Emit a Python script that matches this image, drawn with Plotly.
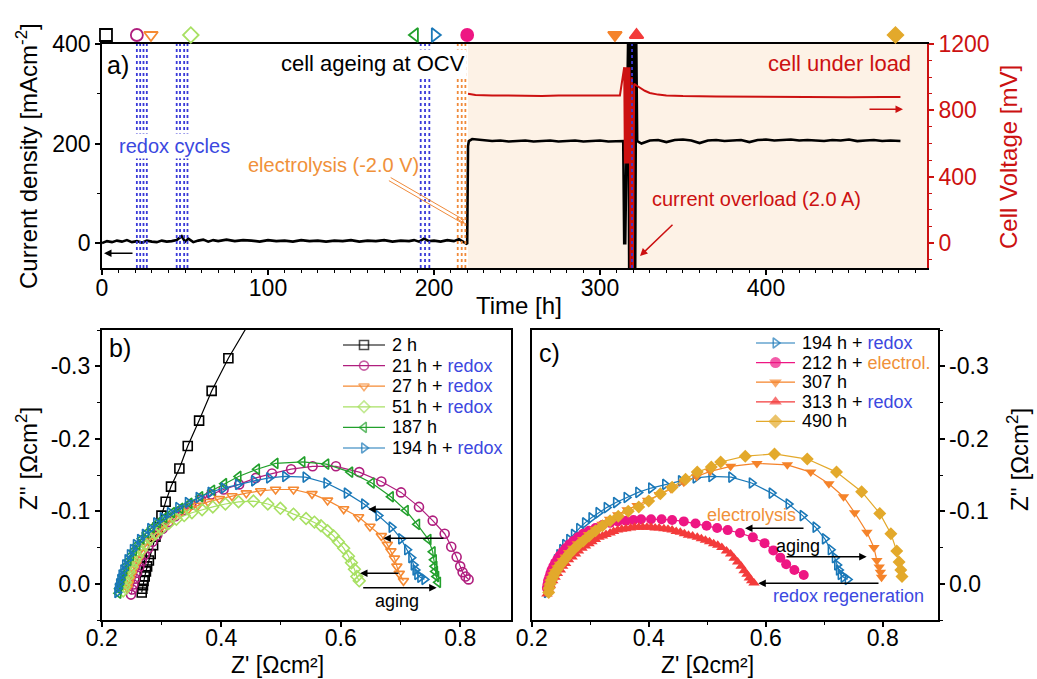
import plotly.graph_objects as go

W, H = 1037, 679
FONT = "Liberation Sans, Arial, sans-serif"

# ---------------- panel a data ----------------
time_h = [0, 3, 6, 9, 12, 15, 18, 21, 24, 27, 30, 33, 36, 39, 42, 45, 48, 50, 52, 55, 58, 61, 64, 67, 70,
          75, 80, 85, 90, 95, 100, 105, 110, 115, 120, 125, 130, 135, 140, 145, 150, 155, 160, 165, 170,
          175, 180, 185, 188, 191, 194, 197, 200, 204, 208, 212, 215, 218, 220, 220.5, 221, 223, 226, 230,
          235, 240, 245, 250, 255, 260, 265, 270, 275, 280, 285, 290, 295, 300, 305, 310, 314, 314.6, 315.2,
          317, 317.6, 318.2, 318.8, 319.4, 320, 320.6, 321.2, 321.8, 322.4, 325, 330, 335, 340, 345, 350, 355,
          360, 365, 370, 375, 380, 385, 390, 395, 400, 405, 410, 415, 420, 425, 430, 435, 440, 445, 450, 455,
          460, 465, 470, 475, 481]
current_density = [0, 4, 2, 5, 3, 6, 2, 4, 1, 5, 3, 2, 5, 3, 4, 6, 14, 3, 9, 2, 5, 7, 3, 6, 4,
                   7, 4, 6, 5, 3, 6, 4, 5, 3, 6, 4, 5, 3, 5, 4, 6, 3, 5, 4, 6,
                   3, 5, 4, 6, 3, 9, 4, 5, 3, 6, 4, 8, 3, -2, 195, 205, 209, 208, 206,
                   205, 206, 204, 205, 206, 204, 205, 206, 204, 205, 206, 204, 205, 206, 204, 205, 205, 0, 0,
                   420, -60, 420, -60, 420, -60, 420, -60, 420, 205, 200, 206, 207, 203, 207, 208, 206,
                   201, 206, 207, 205, 206, 207, 203, 207, 208, 206, 207, 208, 206, 207, 206, 205, 207, 206, 208,
                   205, 206, 207, 205, 206, 205]

volt_time_h = [220.5, 225, 235, 245, 255, 265, 275, 285, 295, 305, 312, 314.6, 315.0, 315.4, 315.8, 316.2,
               316.6, 317.0, 317.4, 317.8, 318.4, 319.2, 319.8, 320.6, 322, 324, 327, 330, 335, 340, 350,
               370, 390, 410, 430, 450, 470, 481]
cell_voltage = [900, 893, 890, 888, 889, 887, 889, 888, 887, 889, 890, 1060, 480, 1060, 480, 1060,
                480, 1060, 480, 1060, -200, 1000, -200, 960, 950, 935, 918, 905, 895, 890, 886,
                884, 882, 880, 878, 879, 880, 880]

load_start_h = 220.5
redox_line_times = [21, 23, 25, 27, 45, 47, 49.5, 51.5, 192, 194.6, 197.2, 319.3]
electrolysis_line_times = [214.3, 216.7, 218.9]
eis_marker_times = [2.4, 21, 29.5, 53.5, 188.5, 200.5, 220, 309, 322, 478]

# ---------------- panel b / c impedance data ----------------
zr_2h = [0.267, 0.268, 0.269, 0.270, 0.272, 0.274, 0.276, 0.279, 0.282, 0.286, 0.290, 0.294, 0.300, 0.307,
         0.316, 0.330, 0.344, 0.363, 0.384, 0.412, 0.447, 0.490]
zi_2h = [0.012, 0.007, 0.002, -0.004, -0.010, -0.017, -0.024, -0.032, -0.041, -0.053, -0.065, -0.078, -0.094,
         -0.113, -0.134, -0.159, -0.190, -0.225, -0.266, -0.311, -0.362, -0.420]

zr_21h = [0.249, 0.251, 0.253, 0.256, 0.259, 0.263, 0.267, 0.272, 0.278, 0.285, 0.293, 0.302, 0.312, 0.323,
          0.336, 0.350, 0.366, 0.383, 0.404, 0.430, 0.458, 0.485, 0.517, 0.553, 0.592, 0.631, 0.668, 0.701,
          0.731, 0.754, 0.774, 0.785, 0.794, 0.800, 0.804, 0.809, 0.814]
zi_21h = [0.015, 0.008, 0.001, -0.007, -0.015, -0.023, -0.031, -0.040, -0.049, -0.058, -0.067, -0.076, -0.085,
          -0.093, -0.101, -0.109, -0.116, -0.123, -0.130, -0.137, -0.146, -0.152, -0.158, -0.162, -0.162,
          -0.154, -0.141, -0.126, -0.106, -0.087, -0.069, -0.051, -0.037, -0.024, -0.016, -0.010, -0.006]

zr_27h = [0.243, 0.245, 0.247, 0.250, 0.253, 0.257, 0.262, 0.267, 0.273, 0.280, 0.288, 0.297, 0.307, 0.318,
          0.331, 0.345, 0.361, 0.378, 0.397, 0.418, 0.442, 0.466, 0.491, 0.521, 0.552, 0.578, 0.605, 0.630,
          0.649, 0.668, 0.678, 0.684, 0.690, 0.694, 0.698, 0.705]
zi_27h = [0.006, 0.000, -0.006, -0.013, -0.020, -0.027, -0.035, -0.043, -0.051, -0.059, -0.067, -0.075, -0.083,
          -0.090, -0.097, -0.103, -0.108, -0.113, -0.117, -0.121, -0.125, -0.128, -0.130, -0.130, -0.124,
          -0.115, -0.103, -0.092, -0.079, -0.066, -0.054, -0.045, -0.035, -0.024, -0.014, -0.004]

zr_51h = [0.236, 0.238, 0.240, 0.243, 0.246, 0.250, 0.255, 0.260, 0.266, 0.273, 0.281, 0.290, 0.300, 0.312,
          0.325, 0.338, 0.351, 0.368, 0.386, 0.407, 0.429, 0.454, 0.478, 0.499, 0.521, 0.542, 0.556, 0.567,
          0.578, 0.588, 0.596, 0.605, 0.613, 0.618, 0.623, 0.627, 0.631]
zi_51h = [0.010, 0.004, -0.002, -0.009, -0.016, -0.023, -0.031, -0.038, -0.046, -0.054, -0.062, -0.069, -0.076,
          -0.083, -0.089, -0.094, -0.098, -0.102, -0.106, -0.110, -0.113, -0.114, -0.110, -0.104, -0.096,
          -0.090, -0.085, -0.080, -0.073, -0.066, -0.058, -0.049, -0.038, -0.029, -0.020, -0.010, -0.004]

zr_187h = [0.228, 0.229, 0.231, 0.233, 0.235, 0.238, 0.241, 0.245, 0.249, 0.254, 0.260, 0.267, 0.275, 0.284,
           0.294, 0.305, 0.318, 0.332, 0.347, 0.365, 0.385, 0.405, 0.429, 0.460, 0.491, 0.536, 0.576, 0.616,
           0.652, 0.684, 0.709, 0.728, 0.747, 0.754, 0.756, 0.757, 0.758, 0.760, 0.763]
zi_187h = [0.013, 0.007, 0.001, -0.005, -0.011, -0.018, -0.025, -0.032, -0.039, -0.046, -0.054, -0.062, -0.070,
           -0.077, -0.084, -0.091, -0.098, -0.104, -0.111, -0.120, -0.129, -0.138, -0.148, -0.158, -0.166,
           -0.168, -0.165, -0.154, -0.139, -0.120, -0.101, -0.082, -0.061, -0.044, -0.033, -0.024, -0.017,
           -0.010, -0.002]

zr_194h = [0.226, 0.227, 0.229, 0.231, 0.233, 0.236, 0.239, 0.243, 0.247, 0.252, 0.257, 0.264, 0.272, 0.281,
           0.291, 0.302, 0.314, 0.328, 0.344, 0.362, 0.382, 0.404, 0.428, 0.455, 0.480, 0.507, 0.541, 0.576,
           0.610, 0.639, 0.663, 0.685, 0.701, 0.711, 0.718, 0.722, 0.725, 0.728, 0.733, 0.740]
zi_194h = [0.012, 0.006, 0.000, -0.006, -0.012, -0.019, -0.026, -0.033, -0.040, -0.047, -0.054, -0.061, -0.068,
           -0.076, -0.084, -0.091, -0.098, -0.105, -0.112, -0.119, -0.126, -0.132, -0.137, -0.142, -0.146,
           -0.148, -0.147, -0.139, -0.125, -0.110, -0.094, -0.078, -0.062, -0.047, -0.036, -0.026, -0.019,
           -0.013, -0.009, -0.006]

zr_212h = [0.226, 0.227, 0.228, 0.230, 0.232, 0.234, 0.237, 0.240, 0.244, 0.248, 0.253, 0.258, 0.264, 0.271,
           0.279, 0.288, 0.298, 0.309, 0.321, 0.334, 0.347, 0.361, 0.374, 0.387, 0.404, 0.422, 0.440, 0.460,
           0.480, 0.499, 0.517, 0.535, 0.556, 0.578, 0.598, 0.613, 0.625, 0.635, 0.649, 0.665]
zi_212h = [0.006, 0.001, -0.004, -0.009, -0.014, -0.019, -0.024, -0.029, -0.034, -0.039, -0.044, -0.049, -0.054,
           -0.059, -0.064, -0.069, -0.073, -0.077, -0.081, -0.084, -0.086, -0.087, -0.088, -0.089, -0.089,
           -0.089, -0.088, -0.086, -0.083, -0.080, -0.077, -0.074, -0.070, -0.064, -0.056, -0.046, -0.036,
           -0.027, -0.019, -0.012]

zr_307h = [0.228, 0.229, 0.231, 0.233, 0.236, 0.239, 0.243, 0.247, 0.252, 0.257, 0.263, 0.270, 0.278, 0.287,
           0.297, 0.308, 0.320, 0.333, 0.347, 0.363, 0.380, 0.398, 0.418, 0.438, 0.460, 0.482, 0.505, 0.540,
           0.585, 0.637, 0.677, 0.708, 0.733, 0.752, 0.773, 0.785, 0.790, 0.794, 0.796, 0.798]
zi_307h = [0.010, 0.004, -0.002, -0.007, -0.012, -0.017, -0.022, -0.027, -0.032, -0.037, -0.043, -0.049, -0.055,
           -0.061, -0.068, -0.075, -0.082, -0.089, -0.095, -0.102, -0.108, -0.115, -0.123, -0.131, -0.140,
           -0.148, -0.155, -0.162, -0.166, -0.164, -0.154, -0.138, -0.120, -0.098, -0.071, -0.050, -0.032,
           -0.023, -0.016, -0.009]

zr_313h = [0.226, 0.229, 0.232, 0.236, 0.240, 0.244, 0.249, 0.253, 0.258, 0.263, 0.269, 0.275, 0.280, 0.286,
           0.292, 0.298, 0.303, 0.309, 0.315, 0.321, 0.327, 0.334, 0.340, 0.347, 0.354, 0.361, 0.369, 0.376,
           0.383, 0.390, 0.397, 0.404, 0.411, 0.418, 0.426, 0.433, 0.440, 0.447, 0.454, 0.461, 0.468, 0.475,
           0.483, 0.490, 0.497, 0.504, 0.511, 0.518, 0.525, 0.533, 0.540, 0.546, 0.552, 0.558, 0.563, 0.568,
           0.572, 0.576, 0.580]
zi_313h = [0.014, 0.008, 0.002, -0.004, -0.009, -0.014, -0.019, -0.024, -0.028, -0.033, -0.037, -0.041, -0.045,
           -0.049, -0.052, -0.055, -0.058, -0.061, -0.064, -0.066, -0.068, -0.070, -0.072, -0.074, -0.075,
           -0.076, -0.077, -0.078, -0.078, -0.078, -0.078, -0.078, -0.077, -0.077, -0.076, -0.075, -0.074,
           -0.072, -0.071, -0.069, -0.067, -0.066, -0.064, -0.062, -0.060, -0.058, -0.055, -0.053, -0.050,
           -0.045, -0.041, -0.035, -0.030, -0.024, -0.018, -0.013, -0.008, -0.004, -0.001]

zr_490h = [0.229, 0.230, 0.232, 0.234, 0.237, 0.240, 0.244, 0.248, 0.253, 0.258, 0.264, 0.271, 0.279, 0.288,
           0.298, 0.309, 0.321, 0.334, 0.348, 0.365, 0.383, 0.400, 0.420, 0.440, 0.463, 0.483, 0.507, 0.523,
           0.565, 0.615, 0.671, 0.721, 0.764, 0.795, 0.814, 0.824, 0.828, 0.831, 0.833]
zi_490h = [0.012, 0.006, 0.000, -0.005, -0.010, -0.015, -0.020, -0.025, -0.030, -0.035, -0.041, -0.047, -0.053,
           -0.059, -0.066, -0.073, -0.080, -0.087, -0.093, -0.100, -0.106, -0.114, -0.124, -0.133, -0.144,
           -0.154, -0.161, -0.168, -0.176, -0.179, -0.172, -0.154, -0.127, -0.097, -0.069, -0.045, -0.030,
           -0.019, -0.010]

z_tickvals = [-0.3, -0.2, -0.1, 0.0]
z_ticktext = ["-0.3", "-0.2", "-0.1", "0.0"]

# ---------------- styles ----------------
BLUE_TXT = "#3B48E0"
ORANGE_TXT = "#F0913A"
RED = "#CC1111"
C = dict(h2="#000000", h21="#B01E7E", h27="#F58A33", h51="#A8E063", h187="#22A02C", h194="#1A78B8",
         h212="#EE1683", h307="#F5832A", h313="#F33B3B", h490="#E3A92B")
redox = f"<span style='color:{BLUE_TXT}'>redox</span>"
electrol = f"<span style='color:{ORANGE_TXT}'>electrol.</span>"

series_b = [
    ("2 h", zr_2h, zi_2h, C["h2"], "square-open"),
    (f"21 h + {redox}", zr_21h, zi_21h, C["h21"], "circle-open"),
    (f"27 h + {redox}", zr_27h, zi_27h, C["h27"], "triangle-down-open"),
    (f"51 h + {redox}", zr_51h, zi_51h, C["h51"], "diamond-open"),
    ("187 h", zr_187h, zi_187h, C["h187"], "triangle-left-open"),
    (f"194 h + {redox}", zr_194h, zi_194h, C["h194"], "triangle-right-open"),
]
series_c = [
    (f"194 h + {redox}", zr_194h, zi_194h, C["h194"], "triangle-right-open"),
    (f"212 h + {electrol}", zr_212h, zi_212h, C["h212"], "circle"),
    ("307 h", zr_307h, zi_307h, C["h307"], "triangle-down"),
    (f"313 h + {redox}", zr_313h, zi_313h, C["h313"], "triangle-up"),
    ("490 h", zr_490h, zi_490h, C["h490"], "diamond"),
]
top_marker_style = [(C["h2"], "square-open"), (C["h21"], "circle-open"), (C["h27"], "triangle-down-open"),
                    (C["h51"], "diamond-open"), (C["h187"], "triangle-left-open"),
                    (C["h194"], "triangle-right-open"), (C["h212"], "circle"), (C["h307"], "triangle-down"),
                    (C["h313"], "triangle-up"), (C["h490"], "diamond")]


def P(x, y):
    return x / W, 1 - y / H


def text(xp, yp, s, size=20, color="black", xanchor="center", angle=0, bg=None):
    x, y = P(xp, yp)
    d = dict(x=x, y=y, xref="paper", yref="paper", text=s, showarrow=False, xanchor=xanchor,
             yanchor="middle", textangle=angle, font=dict(size=size, color=color, family=FONT))
    if bg:
        d["bgcolor"] = bg
        d["borderpad"] = 1
    return d


def arrow(hx, hy, tx, ty, color="black", width=1.5, head=2, size=1.0):
    x, y = P(hx, hy)
    return dict(x=x, y=y, xref="paper", yref="paper", text="", showarrow=True, ax=tx - hx, ay=ty - hy,
                arrowcolor=color, arrowwidth=width, arrowhead=head, arrowsize=size, standoff=0,
                startstandoff=0)


fig = go.Figure()
ann = []

# panel a
fig.add_trace(go.Scatter(x=time_h, y=current_density, mode="lines", line=dict(color="black", width=2.6),
                         xaxis="x", yaxis="y", showlegend=False))
fig.add_trace(go.Scatter(x=volt_time_h, y=cell_voltage, mode="lines", line=dict(color=RED, width=2),
                         xaxis="x", yaxis="y2", showlegend=False))
fig.add_trace(go.Scatter(x=eis_marker_times, y=[0.5] * len(eis_marker_times), mode="markers",
                         marker=dict(color=[s[0] for s in top_marker_style],
                                     symbol=[s[1] for s in top_marker_style], size=12,
                                     line=dict(width=1.8, color=[s[0] for s in top_marker_style])),
                         cliponaxis=False, xaxis="x", yaxis="y5", showlegend=False))

# panels b and c + hand-built legends (legend rows on hidden helper axes)
LEG_B_Y0, LEG_B_DY = 345, 20.6
LEG_C_Y0, LEG_C_DY = 343, 19.6
for k, (name, zr, zi, col, sym) in enumerate(series_b):
    fig.add_trace(go.Scatter(x=zr, y=zi, name=name, mode="lines+markers", line=dict(color=col, width=1.2),
                             marker=dict(symbol=sym, size=9, color=col, line=dict(width=1.6, color=col)),
                             xaxis="x2", yaxis="y3", showlegend=False))
    fig.add_trace(go.Scatter(x=[0, 0.5, 1], y=[k, k, k], mode="lines+markers", line=dict(color=col, width=1.2),
                             marker=dict(symbol=sym, size=[0, 9, 0], color=col,
                                         line=dict(width=[0, 1.6, 0], color=col)),
                             xaxis="x4", yaxis="y6", showlegend=False, cliponaxis=False, hoverinfo="skip"))
    ann.append(text(390, LEG_B_Y0 + LEG_B_DY * k, name, 18, xanchor="left"))
for k, (name, zr, zi, col, sym) in enumerate(series_c):
    is_open = "open" in sym
    fig.add_trace(go.Scatter(x=zr, y=zi, name=name, mode="lines+markers", line=dict(color=col, width=1.2),
                             marker=dict(symbol=sym, size=9 if is_open else 10, color=col,
                                         line=dict(width=1.6 if is_open else 0, color=col)),
                             xaxis="x3", yaxis="y4", showlegend=False))
    fig.add_trace(go.Scatter(x=[0, 0.5, 1], y=[k, k, k], mode="lines+markers", line=dict(color=col, width=1.2),
                             marker=dict(symbol=sym, size=[0, 9 if is_open else 11, 0], color=col,
                                         line=dict(width=[0, 1.6 if is_open else 0, 0], color=col)),
                             xaxis="x5", yaxis="y7", showlegend=False, cliponaxis=False, hoverinfo="skip"))
    ann.append(text(800, LEG_C_Y0 + LEG_C_DY * k, name, 18, xanchor="left"))

# ---------------- shapes ----------------
shapes = [dict(type="rect", xref="x", yref="y domain", x0=load_start_h, x1=497, y0=0, y1=1,
               fillcolor="#FDF2E6", line=dict(width=0), layer="below")]
for t in redox_line_times:
    shapes.append(dict(type="line", xref="x", yref="y domain", x0=t, x1=t, y0=0, y1=1,
                       line=dict(color="#3A3AD8", width=1.8, dash="dot"), layer="above"))
for t in electrolysis_line_times:
    shapes.append(dict(type="line", xref="x", yref="y domain", x0=t, x1=t, y0=0, y1=1,
                       line=dict(color="#F08A3A", width=1.8, dash="dot"), layer="above"))

ann += [
    text(118, 65, "a)", 25),
    text(549, 353, "c)", 25),
    text(120, 348, "b)", 25),
    text(467, 63, "cell ageing at OCV", 22, xanchor="right", bg="white"),
    text(117, 146, "redox cycles", 20, BLUE_TXT, xanchor="left", bg="white"),
    text(246, 165, "electrolysis (-2.0 V)", 20, ORANGE_TXT, xanchor="left"),
    text(913, 63, "cell under load", 22, RED, xanchor="right"),
    text(650, 199, "current overload (2.0 A)", 20, RED, xanchor="left"),
    # axis titles
    text(27, 156, "Current density [mAcm<sup>-2</sup>]", 24, angle=-90),
    text(519, 306, "Time [h]", 24),
    text(1008, 157, "Cell Voltage [mV]", 24, RED, angle=-90),
    text(27, 459, "Z'' [Ωcm<sup>2</sup>]", 24, angle=-90),
    text(277, 665, "Z' [Ωcm²]", 23),
    text(707, 665, "Z' [Ωcm²]", 23),
    text(1018, 460, "Z'' [Ωcm<sup>2</sup>]", 24, angle=-90),
    # EIS labels
    text(397, 601, "aging", 18),
    text(751, 515, "electrolysis", 18, ORANGE_TXT),
    text(798, 546, "aging", 18),
    text(848, 596, "redox regeneration", 18, BLUE_TXT),
    # arrows
    arrow(104, 253.3, 134, 253.3),
    arrow(903, 109.3, 868, 109.3, color=RED),
    arrow(640, 256, 674, 223.3, color=RED),
    arrow(462.4, 223.2, 387.4, 179.8, color="#F08A3A", width=1.0, head=0),
    arrow(464.2, 220.1, 389.2, 176.7, color="#F08A3A", width=1.0, head=0),
    arrow(465, 223.5, 455, 217.7, color="#F08A3A", width=1.0, head=2, size=0.8),
    arrow(368.3, 509.3, 401.7, 509.3),
    arrow(383.3, 538.3, 445, 538.3),
    arrow(360, 573.3, 400, 573.3),
    arrow(436.7, 587.7, 361.7, 587.7),
    arrow(745, 528.3, 805, 528.3),
    arrow(866.7, 556.7, 785, 556.7),
    arrow(758.3, 583.3, 880, 583.3),
]

tickfont = dict(size=23, family=FONT, color="black")
common = dict(showline=True, linewidth=1.6, linecolor="black", showgrid=False, zeroline=False,
              ticks="outside", ticklen=5, tickwidth=1.5, tickcolor="black", tickfont=tickfont,
              automargin=False)
xcommon_a = dict(common, ticklabelstandoff=-6)
xcommon_bc = dict(common, ticklabelstandoff=-8)
minor_k = dict(ticklen=3, ticks="outside", tickcolor="black", tickwidth=1)
hidden = dict(visible=False, automargin=False, showgrid=False, zeroline=False)

fig.update_layout(
    width=W, height=H, margin=dict(l=0, r=0, t=0, b=0, autoexpand=False),
    paper_bgcolor="white", plot_bgcolor="rgba(0,0,0,0)",
    font=dict(family=FONT, color="black"), showlegend=False,
    xaxis=dict(domain=[102 / W, 927 / W], range=[0, 497], anchor="y", tickmode="linear", tick0=0, dtick=100,
               mirror=True, minor=dict(dtick=10, **minor_k), **xcommon_a),
    yaxis=dict(domain=[1 - 268 / H, 1 - 44 / H], range=[-50, 400], anchor="x", tickmode="linear", tick0=0,
               dtick=200, minor=dict(dtick=100, tick0=0, **minor_k), **common),
    yaxis2=dict(overlaying="y", side="right", anchor="x", range=[-150, 1200], tickmode="linear", tick0=0,
                dtick=400, showline=True, linewidth=1.6, linecolor=RED, showgrid=False, zeroline=False,
                ticks="outside", ticklen=5, tickwidth=1.5, tickcolor=RED, automargin=False,
                tickfont=dict(size=23, family=FONT, color=RED),
                minor=dict(dtick=100, tick0=0, ticklen=3, ticks="outside", tickcolor=RED, tickwidth=1)),
    yaxis5=dict(domain=[1 - 44 / H, 1 - 26 / H], range=[0, 1], anchor="x", **hidden),
    xaxis2=dict(domain=[101.7 / W, 511 / W], range=[0.2, 0.885], anchor="y3", tickmode="linear", tick0=0.2,
                dtick=0.2, mirror=True, minor=dict(dtick=0.1, tick0=0.2, **minor_k), **xcommon_bc),
    yaxis3=dict(domain=[1 - 620 / H, 1 - 330 / H], range=[0.05, -0.35], anchor="x2", tickmode="array",
                tickvals=z_tickvals, ticktext=z_ticktext, mirror=True,
                minor=dict(tickmode="linear", tick0=0, dtick=0.05, **minor_k), **common),
    xaxis3=dict(domain=[531.7 / W, 937.7 / W], range=[0.2, 0.894], anchor="y4", tickmode="linear", tick0=0.2,
                dtick=0.2, mirror=True, minor=dict(dtick=0.1, tick0=0.2, **minor_k), **xcommon_bc),
    yaxis4=dict(domain=[1 - 620 / H, 1 - 330 / H], range=[0.05, -0.35], anchor="x3", side="right",
                tickmode="array", tickvals=z_tickvals, ticktext=z_ticktext, mirror=True,
                minor=dict(tickmode="linear", tick0=0, dtick=0.05, **minor_k), **common),
    # helper axes for the hand-built legends
    xaxis4=dict(domain=[343 / W, 385 / W], range=[0, 1], anchor="y6", **hidden),
    yaxis6=dict(domain=[1 - (LEG_B_Y0 + 5.5 * LEG_B_DY) / H, 1 - (LEG_B_Y0 - 0.5 * LEG_B_DY) / H],
                range=[5.5, -0.5], anchor="x4", **hidden),
    xaxis5=dict(domain=[756 / W, 795 / W], range=[0, 1], anchor="y7", **hidden),
    yaxis7=dict(domain=[1 - (LEG_C_Y0 + 4.5 * LEG_C_DY) / H, 1 - (LEG_C_Y0 - 0.5 * LEG_C_DY) / H],
                range=[4.5, -0.5], anchor="x5", **hidden),
    shapes=shapes,
    annotations=ann,
)

fig.write_html("out.html")
